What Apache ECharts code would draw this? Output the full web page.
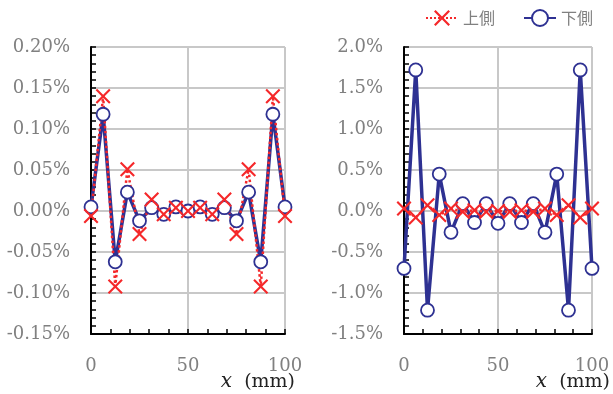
<!DOCTYPE html>
<html>
<head>
<meta charset="utf-8">
<script src="https://cdn.jsdelivr.net/npm/echarts@6/dist/echarts.min.js"></script>
<style>html,body{margin:0;padding:0;background:#fff;}#c{width:613px;height:394px;}</style>
</head>
<body>
<div id="c"></div>
<script>
// positions along x (mm)
const xPositions = [0, 6.25, 12.5, 18.75, 25, 31.25, 37.5, 43.75, 50, 56.25, 62.5, 68.75, 75, 81.25, 87.5, 93.75, 100];
// left chart (%)
const leftUpper = [-0.006, 0.14, -0.092, 0.051, -0.028, 0.014, -0.004, 0.004, 0.0, 0.004, -0.004, 0.014, -0.028, 0.051, -0.092, 0.14, -0.006];
const leftLower = [0.005, 0.118, -0.062, 0.023, -0.012, 0.004, -0.004, 0.005, 0.0, 0.005, -0.004, 0.004, -0.012, 0.023, -0.062, 0.118, 0.005];
// right chart (%)
const rightUpper = [0.03, -0.08, 0.07, -0.05, 0.03, -0.01, 0.01, -0.01, 0.0, -0.01, 0.01, -0.01, 0.03, -0.05, 0.07, -0.08, 0.03];
const rightLower = [-0.70, 1.72, -1.21, 0.45, -0.26, 0.09, -0.14, 0.09, -0.15, 0.09, -0.14, 0.09, -0.26, 0.45, -1.21, 1.72, -0.70];
const seriesNames = ['上側', '下側'];
const xAxisName = ['x', '(mm)'];

const pairs = (ys) => ys.map((y, i) => [xPositions[i], y]);
const RED = '#f5282a';
const BLUE = '#2e3192';
const XPATH = 'path://M0,1L1,0L5,4L9,0L10,1L6,5L10,9L9,10L5,6L1,10L0,9L4,5Z';
const serif = 'DejaVu Serif';

function xAxisFor(gridIndex, gap, margin) {
  return {
    gridIndex, type: 'value', min: 0, max: 100, interval: 50,
    axisLine: { show: true, onZero: false, lineStyle: { color: '#000', width: 2 } },
    axisTick: { show: true, inside: true, length: 5, lineStyle: { color: '#000', width: 1.5 } },
    minorTick: { show: true, splitNumber: 5, length: 5, lineStyle: { color: '#000', width: 1.5 } },
    splitLine: { show: true, lineStyle: { color: '#c8c8c8', width: 2 } },
    axisLabel: { color: '#808080', fontFamily: serif, fontSize: 18, margin: margin },
    name: '{i|' + xAxisName[0] + '}  ' + xAxisName[1],
    nameLocation: 'end', nameGap: gap, nameMoveOverlap: false,
    nameTextStyle: {
      color: '#222', fontFamily: serif, fontSize: 19, align: 'right', verticalAlign: 'top',
      padding: [38, 0, 0, 0],
      rich: { i: { fontStyle: 'italic', fontFamily: serif, fontSize: 20, color: '#222' } }
    }
  };
}
function yAxisFor(gridIndex, min, max, interval, dec) {
  return {
    gridIndex, type: 'value', min, max, interval,
    axisLine: { show: true, onZero: false, lineStyle: { color: '#000', width: 2 } },
    axisTick: { show: true, inside: true, length: 5, lineStyle: { color: '#000', width: 1.5 } },
    minorTick: { show: true, splitNumber: 5, length: 5, lineStyle: { color: '#000', width: 1.5 } },
    splitLine: { show: true, lineStyle: { color: '#c8c8c8', width: 2 } },
    axisLabel: { color: '#808080', fontFamily: serif, fontSize: 18, margin: 21,
      formatter: (v) => v.toFixed(dec) + '%' }
  };
}
function lowerSeries(i, data) {
  return {
    name: seriesNames[1], type: 'line', xAxisIndex: i, yAxisIndex: i, data: pairs(data),
    symbol: 'circle', symbolSize: 13, showAllSymbol: true,
    lineStyle: { color: BLUE, width: 3.5 },
    itemStyle: { color: '#fff', borderColor: BLUE, borderWidth: 1.8 },
    emphasis: { disabled: true }, animation: false
  };
}
function upperSeries(i, data) {
  return {
    name: seriesNames[0], type: 'line', xAxisIndex: i, yAxisIndex: i, data: pairs(data),
    symbol: XPATH, symbolSize: 15, showAllSymbol: true,
    lineStyle: { color: RED, width: 2.5, type: 'dotted' },
    itemStyle: { color: RED },
    emphasis: { disabled: true }, animation: false
  };
}

const chart = echarts.init(document.getElementById('c'), null, { renderer: 'canvas' });
chart.setOption({
  animation: false,
  backgroundColor: '#fff',
  legend: {
    data: seriesNames, top: 4, left: 420, itemWidth: 32, itemHeight: 20, itemGap: 28,
    textStyle: { color: '#808080', fontSize: 16, fontFamily: 'Noto Sans CJK JP' }
  },
  grid: [
    { left: 91, width: 194, top: 47, height: 287, containLabel: false, outerBoundsMode: 'none' },
    { left: 404, width: 188, top: 47, height: 287, containLabel: false, outerBoundsMode: 'none' }
  ],
  xAxis: [xAxisFor(0, 10, 23), xAxisFor(1, 18, 23)],
  yAxis: [yAxisFor(0, -0.15, 0.2, 0.05, 2), yAxisFor(1, -1.5, 2.0, 0.5, 1)],
  series: [
    lowerSeries(0, leftLower), upperSeries(0, leftUpper),
    lowerSeries(1, rightLower), upperSeries(1, rightUpper)
  ]
});
</script>
</body>
</html>
